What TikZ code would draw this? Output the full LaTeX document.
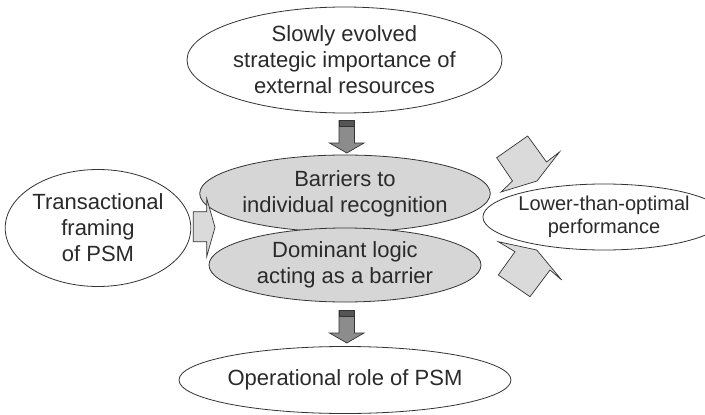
\documentclass[tikz,border=0pt]{standalone}
\usepackage{fontspec}
\setmainfont{Liberation Sans}
\usetikzlibrary{shapes.geometric}
\definecolor{ink}{HTML}{2A2A2A}
\definecolor{edge}{HTML}{333333}
\definecolor{stip}{HTML}{D6D6D6}
\definecolor{blk}{HTML}{DADADA}
\definecolor{dark}{HTML}{8C8C8C}
\definecolor{band}{HTML}{555555}
\tikzset{
  oval/.style={ellipse, draw=edge, line width=0.8pt, fill=white, inner sep=0pt,
    align=center, text=ink, font=\fontsize{22}{26}\selectfont},
  grayoval/.style={oval, fill=stip},
  smalloval/.style={oval, font=\fontsize{20}{23}\selectfont},
  lightarrow/.style={draw=edge, line width=0.7pt, fill=blk, line join=miter},
  darkarrow/.style={draw=edge, line width=0.7pt, fill=dark, line join=miter},
  darkband/.style={draw=edge, line width=0.5pt, fill=band}
}
\begin{document}
\begin{tikzpicture}[x=1pt,y=-1pt]
\useasboundingbox (0,0) rectangle (705,415);
% ovals
\node[oval, minimum width=315, minimum height=106] (top) at (344.5,60)
  {Slowly evolved\\strategic importance of\\external resources};
\node[oval, minimum width=181, minimum height=117] (left) at (98,228)
  {Transactional\\framing\\of PSM};
\node[grayoval, minimum width=272, minimum height=77] (barr) at (345,193.5)
  {Barriers to\\individual recognition};
\node[grayoval, minimum width=272, minimum height=74] (dom) at (345,265)
  {Dominant logic\\acting as a barrier};
\node[oval, minimum width=316, minimum height=67] (bot) at (345,380)
  {Operational role of PSM};
\node[smalloval, minimum width=210, minimum height=66] (right) at (604,217)
  {Lower-than-optimal\\performance};
% down arrow top -> barriers
\draw[darkarrow] (339,120.5) -- (354.5,120.5) -- (354.5,143) -- (364,143)
  -- (346.8,153) -- (329.5,143) -- (339,143) -- cycle;
\draw[darkband] (339,120.5) rectangle (354.5,126.5);
% down arrow dominant -> operational
\draw[darkarrow] (339,310.5) -- (354.5,310.5) -- (354.5,333) -- (364,333)
  -- (346.8,343) -- (329.5,333) -- (339,333) -- cycle;
\draw[darkband] (339,310.5) rectangle (354.5,316.5);
% left arrow
\draw[lightarrow] (193.3,211.7) -- (206.7,211.7) -- (206.7,198.3) -- (215,227.3)
  -- (206.7,256.7) -- (206.7,241.7) -- (193.3,241.7) -- cycle;
% right arrows
\draw[lightarrow] (527.7,136) -- (546.5,162) -- (559.5,152) -- (537,181)
  -- (501,192) -- (512.5,181) -- (496.7,157.7) -- cycle;
\draw[lightarrow] (498.3,241.7) -- (536.7,250) -- (561.7,280) -- (550,270)
  -- (530,296.7) -- (498.3,275) -- (515,251.7) -- cycle;
\end{tikzpicture}
\end{document}
